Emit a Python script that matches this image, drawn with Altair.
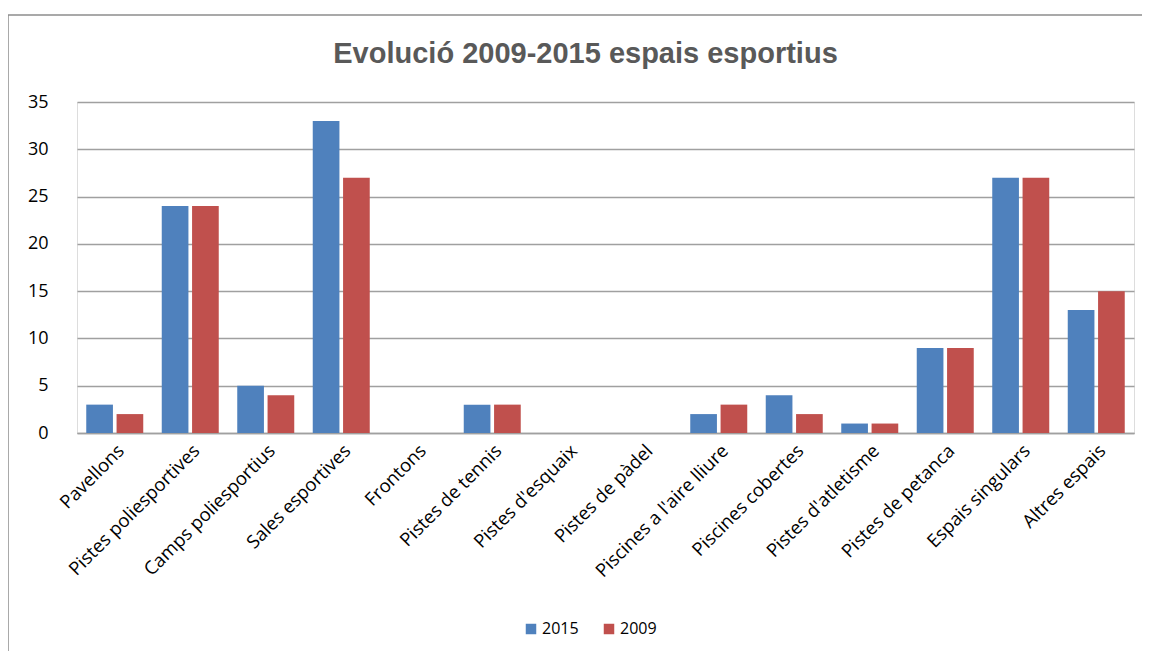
import altair as alt
import pandas as pd

categories = ["Pavellons", "Pistes poliesportives", "Camps poliesportius", "Sales esportives",
              "Frontons", "Pistes de tennis", "Pistes d'esquaix", "Pistes de pàdel",
              "Piscines a l'aire lliure", "Piscines cobertes", "Pistes d'atletisme",
              "Pistes de petanca", "Espais singulars", "Altres espais"]
values_2015 = [3, 24, 5, 33, 0, 3, 0, 0, 2, 4, 1, 9, 27, 13]
values_2009 = [2, 24, 4, 27, 0, 3, 0, 0, 3, 2, 1, 9, 27, 15]
series = ["2015", "2009"]
colors = ["#4F81BD", "#C0504D"]
title_text = "Evolució 2009-2015 espais esportius"

rows = []
for c, a, b in zip(categories, values_2015, values_2009):
    rows.append({"cat": c, "year": "2015", "value": a})
    rows.append({"cat": c, "year": "2009", "value": b})
df = pd.DataFrame(rows)

W, H = 1057, 331

bars = alt.Chart(df).mark_bar().encode(
    x=alt.X("cat:N", sort=categories, title=None,
            scale=alt.Scale(paddingInner=0.245, paddingOuter=0.1225),
            axis=alt.Axis(labelAngle=-45, labelFontSize=18.5, labelFont="Open Sans",
                          labelColor="#000000", ticks=False, domainColor="#a0a0a0",
                          domainWidth=1.5, labelPadding=8, grid=False, labelLimit=400)),
    xOffset=alt.XOffset("year:N", sort=series, scale=alt.Scale(paddingInner=0.12, paddingOuter=0)),
    y=alt.Y("value:Q", title=None, scale=alt.Scale(domain=[0, 35], nice=False),
            axis=alt.Axis(values=[0, 5, 10, 15, 20, 25, 30, 35], labelFontSize=18,
                          labelFont="Open Sans", labelColor="#000000", ticks=False,
                          domain=False, gridColor="#a0a0a0", gridWidth=1.5, labelPadding=29)),
    color=alt.Color("year:N", sort=series, scale=alt.Scale(domain=series, range=colors),
                    legend=alt.Legend(title=None, orient="none", direction="horizontal",
                                      legendX=446, legendY=519, symbolType="square",
                                      symbolSize=110, symbolStrokeWidth=0, labelFontSize=16,
                                      labelFont="Open Sans", labelColor="#000000",
                                      columnPadding=22, labelOffset=3)),
)

frame_df = pd.DataFrame({"k": [0]})
left_border = alt.Chart(frame_df).mark_rule(color="#8c8c8c", strokeWidth=1.5).encode(
    x=alt.value(-69), y=alt.value(-87), y2=alt.value(560))
top_border = alt.Chart(frame_df).mark_rule(color="#8c8c8c", strokeWidth=1.5).encode(
    x=alt.value(-69), x2=alt.value(1070), y=alt.value(-87))
title_mark = alt.Chart(pd.DataFrame({"t": [title_text]})).mark_text(
    font="Liberation Sans", fontSize=29, fontWeight="bold", color="#595959",
    align="center", baseline="alphabetic").encode(
    text="t:N", x=alt.value(W / 2 - 20), y=alt.value(-39))

chart = alt.layer(bars, left_border, top_border, title_mark).properties(
    width=W, height=H,
    autosize=alt.AutoSizeParams(type="none"),
    padding={"left": 69, "top": 94, "right": 8, "bottom": 218},
).configure_view(stroke=None).configure(background="white")

chart.save("out.html", embed_options={"renderer": "svg", "actions": False})
